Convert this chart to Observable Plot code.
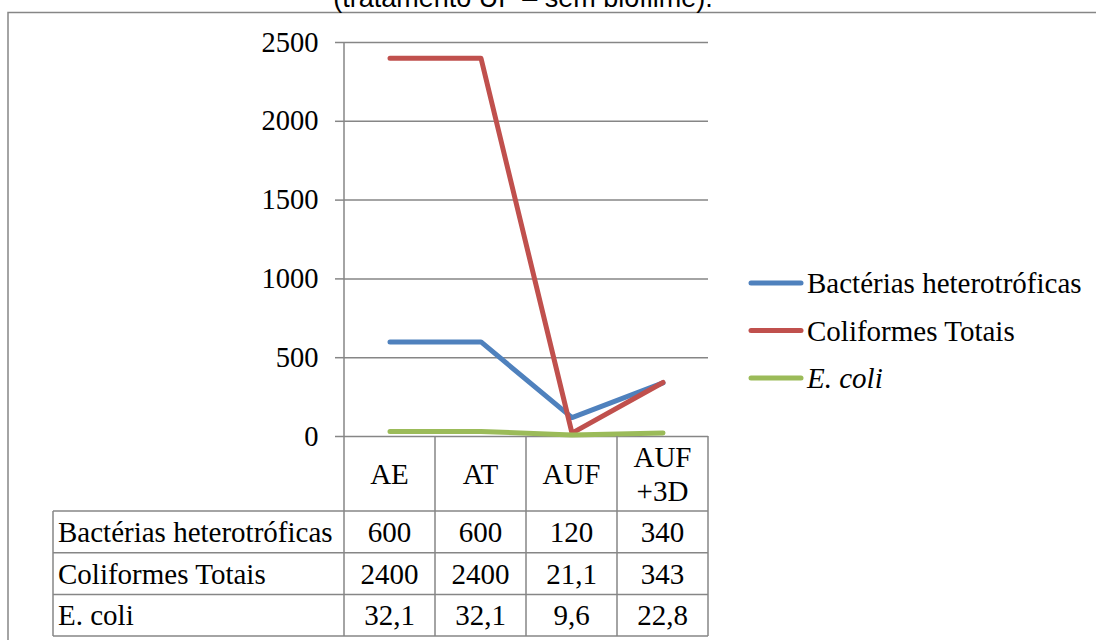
<!DOCTYPE html>
<html>
<head>
<meta charset="utf-8">
<script src="https://cdn.jsdelivr.net/npm/d3@7"></script>
<script src="https://cdn.jsdelivr.net/npm/@observablehq/plot@0.6"></script>
<style>
  html, body { margin: 0; padding: 0; background: #fff; }
  #chart { position: relative; width: 1096px; height: 640px; overflow: hidden; background: #fff; }
</style>
</head>
<body>
<div id="chart"></div>
<script>
// Chart content
const title = "(tratamento UF – sem biofilme).";
const categories = ["AE", "AT", "AUF", "AUF +3D"];
const seriesNames = ["Bactérias heterotróficas", "Coliformes Totais", "E. coli"];
const bacterias = [600, 600, 120, 340];
const coliformes = [2400, 2400, 21.1, 343];
const ecoli = [32.1, 32.1, 9.6, 22.8];
const seriesColors = ["#4F81BD", "#C0504D", "#9BBB59"];
const yTicks = [0, 500, 1000, 1500, 2000, 2500];

const seriesValues = [bacterias, coliformes, ecoli];
const rows = categories.flatMap((c, i) =>
  seriesNames.map((s, j) => ({category: c, series: s, value: seriesValues[j][i]}))
);

const W = 1096, H = 640;
const gray = "#868686";
const serif = "'Liberation Serif', 'Times New Roman', serif";
const sans = "'Liberation Sans', Arial, sans-serif";
const bodySize = 29;

const chart = Plot.plot({
  width: W,
  height: H,
  marginLeft: 344,
  marginRight: 388,
  marginTop: 42,
  marginBottom: 204,
  style: {fontFamily: serif, fontSize: "28.5px", color: "black", background: "white", overflow: "visible"},
  x: {type: "band", domain: categories, padding: 0, axis: null},
  y: {domain: [0, 2500]},
  color: {domain: seriesNames, range: seriesColors},
  marks: [
    Plot.gridY(yTicks, {stroke: gray, strokeOpacity: 1, strokeWidth: 1.5}),
    Plot.axisY(yTicks, {
      tickSize: 9, tickPadding: 17, tickFormat: d => String(d),
      stroke: gray, strokeWidth: 1.5, fill: "black", label: null
    }),
    Plot.line(rows, {
      x: "category", y: "value", z: "series", stroke: "series",
      strokeWidth: 5, strokeLinecap: "round", strokeLinejoin: "round"
    })
  ]
});

document.getElementById("chart").appendChild(chart);

// Data table, legend, title and outer border drawn with the plot's own scales
const svg = d3.select(chart);
const xs = chart.scale("x");
const ys = chart.scale("y");
const bw = xs.bandwidth;
const colLeft = xs.apply(categories[0]);
const colRight = xs.apply(categories[categories.length - 1]) + bw;
const headTop = ys.apply(0);
const headH = 75;
const rowH = 41.7;
const labelLeft = 53;
const rowTop = i => headTop + headH + i * rowH;
const tableBottom = rowTop(seriesNames.length);
const fmt = v => String(v).replace(".", ",");

const lines = svg.append("g").attr("stroke", gray).attr("stroke-width", 1.5).attr("fill", "none");
// horizontal rules of the table
for (let i = 0; i <= seriesNames.length; i++) {
  lines.append("line").attr("x1", labelLeft).attr("x2", colRight).attr("y1", rowTop(i)).attr("y2", rowTop(i));
}
// left border of the row labels
lines.append("line").attr("x1", labelLeft).attr("x2", labelLeft).attr("y1", rowTop(0)).attr("y2", tableBottom);
// value axis line, continuing down as the first column border
lines.append("line").attr("x1", colLeft).attr("x2", colLeft).attr("y1", ys.apply(2500)).attr("y2", tableBottom);
// remaining column borders
categories.forEach(c => {
  const xr = xs.apply(c) + bw;
  lines.append("line").attr("x1", xr).attr("x2", xr).attr("y1", headTop).attr("y2", tableBottom);
});

const txt = svg.append("g")
  .attr("font-family", serif).attr("font-size", bodySize).attr("fill", "black").attr("text-anchor", "start");
// header cells
categories.forEach(c => {
  const cx = xs.apply(c) + bw / 2;
  const parts = c.split(" ");
  const lh = 34;
  const cy = headTop + headH / 2;
  parts.forEach((p, k) => {
    txt.append("text")
      .attr("x", cx)
      .attr("y", cy + (k - (parts.length - 1) / 2) * lh)
      .attr("dy", "0.35em")
      .attr("text-anchor", "middle")
      .text(p);
  });
});
// row labels and values
seriesNames.forEach((s, j) => {
  const cy = rowTop(j) + rowH / 2;
  txt.append("text").attr("x", labelLeft + 5).attr("y", cy).attr("dy", "0.35em")
    .attr("text-anchor", "start").text(s);
  categories.forEach((c, i) => {
    txt.append("text")
      .attr("x", xs.apply(c) + bw / 2)
      .attr("y", cy)
      .attr("dy", "0.35em")
      .attr("text-anchor", "middle")
      .text(fmt(seriesValues[j][i]));
  });
});

// legend
const lg = svg.append("g").attr("font-family", serif).attr("font-size", bodySize).attr("text-anchor", "start");
const legX = colRight + 43, legY = 283, legStep = 47.5;
seriesNames.forEach((s, j) => {
  const y = legY + j * legStep;
  lg.append("line")
    .attr("x1", legX).attr("x2", legX + 50).attr("y1", y).attr("y2", y)
    .attr("stroke", seriesColors[j]).attr("stroke-width", 5).attr("stroke-linecap", "round");
  lg.append("text")
    .attr("x", legX + 56).attr("y", y).attr("dy", "0.35em")
    .attr("text-anchor", "start")
    .attr("font-style", s === "E. coli" ? "italic" : null)
    .text(s);
});

// outer border and title
svg.append("path")
  .attr("d", `M8,${H} V12.5 H${W}`)
  .attr("fill", "none").attr("stroke", gray).attr("stroke-width", 1.5);
svg.append("text")
  .attr("x", 523).attr("y", 7)
  .attr("text-anchor", "middle")
  .attr("font-family", sans).attr("font-size", 27)
  .attr("fill", "black")
  .text(title);
</script>
</body>
</html>
